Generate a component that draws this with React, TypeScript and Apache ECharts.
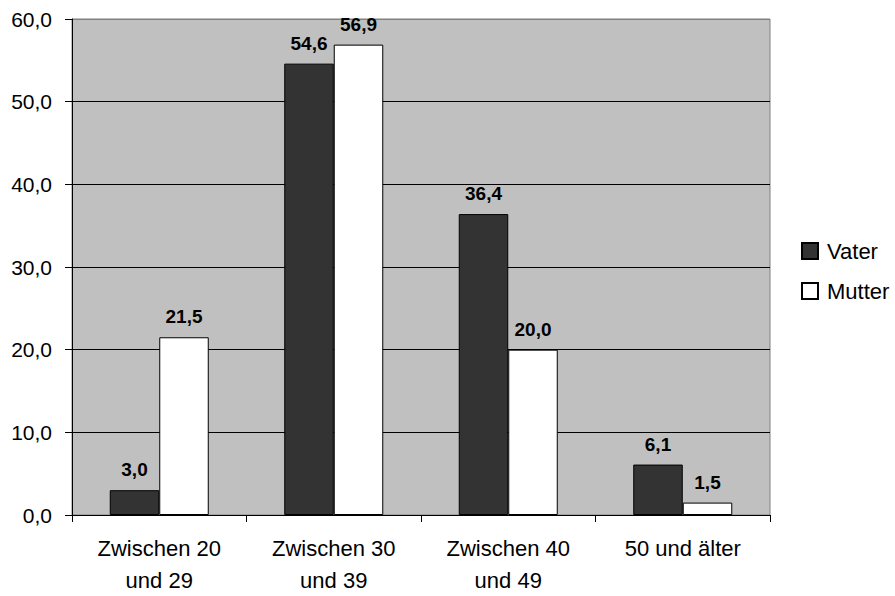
import React, { useEffect, useRef } from "react";
import * as echarts from "echarts";

const categories = ["Zwischen 20\nund 29", "Zwischen 30\nund 39", "Zwischen 40\nund 49", "50 und älter"];
const seriesNames = ["Vater", "Mutter"];
const vater = [3.0, 54.6, 36.4, 6.1];
const mutter = [21.5, 56.9, 20.0, 1.5];
const yMin = 0;
const yMax = 60;
const yInterval = 10;

const FONT = "'Liberation Sans', Arial, sans-serif";
const fmt = (v: number) => v.toFixed(1).replace(".", ",");

export default function App() {
  const ref = useRef<HTMLDivElement>(null);
  useEffect(() => {
    if (!ref.current) return;
    const chart = echarts.init(ref.current, null, { renderer: "svg" });
    const label = {
      show: true,
      position: "top" as const,
      distance: 11,
      fontFamily: FONT,
      fontSize: 19,
      fontWeight: "bold" as const,
      color: "#000",
      formatter: (p: any) => fmt(p.value),
    };
    chart.setOption({
      animation: false,
      backgroundColor: "#fff",
      textStyle: { fontFamily: FONT },
      grid: {
        left: 72,
        right: 125,
        top: 19,
        bottom: 76,
        show: true,
        backgroundColor: "#c0c0c0",
        borderColor: "#808080",
        borderWidth: 1,
      },
      legend: {
        orient: "vertical",
        left: 801,
        top: 240,
        padding: 0,
        itemWidth: 16,
        itemHeight: 16,
        itemGap: 18,
        icon: "rect",
        textStyle: { fontFamily: FONT, fontSize: 22, color: "#000", padding: [0, 0, 0, 4] },
        data: seriesNames,
      },
      xAxis: {
        type: "category",
        data: categories,
        boundaryGap: true,
        axisLine: { show: true, lineStyle: { color: "#000", width: 1 } },
        axisTick: { show: true, length: 7, interval: 0, lineStyle: { color: "#000" } },
        axisLabel: {
          interval: 0,
          margin: 17,
          fontFamily: FONT,
          fontSize: 22,
          lineHeight: 32,
          color: "#000",
        },
        splitLine: { show: false },
      },
      yAxis: {
        type: "value",
        min: yMin,
        max: yMax,
        interval: yInterval,
        axisLine: { show: true, lineStyle: { color: "#000", width: 1 } },
        axisTick: { show: true, length: 7, lineStyle: { color: "#000" } },
        axisLabel: {
          margin: 20,
          fontFamily: FONT,
          fontSize: 21,
          color: "#000",
          formatter: (v: number) => fmt(v),
        },
        splitLine: {
          show: true,
          lineStyle: { color: ["#000", "#000", "#000", "#000", "#000", "#000", "#808080"], width: 1 },
        },
      },
      series: [
        {
          name: seriesNames[0],
          type: "bar",
          data: vater,
          barWidth: 49.5,
          barGap: "0%",
          itemStyle: { color: "#333333", borderColor: "#000", borderWidth: 1 },
          label,
        },
        {
          name: seriesNames[1],
          type: "bar",
          data: mutter,
          barWidth: 49.5,
          barGap: "0%",
          itemStyle: { color: "#ffffff", borderColor: "#000", borderWidth: 1 },
          label,
        },
      ],
    });
    return () => chart.dispose();
  }, []);
  return (
    <div
      ref={ref}
      style={{ position: "fixed", left: 0, top: 0, width: 895, height: 596 }}
    />
  );
}
